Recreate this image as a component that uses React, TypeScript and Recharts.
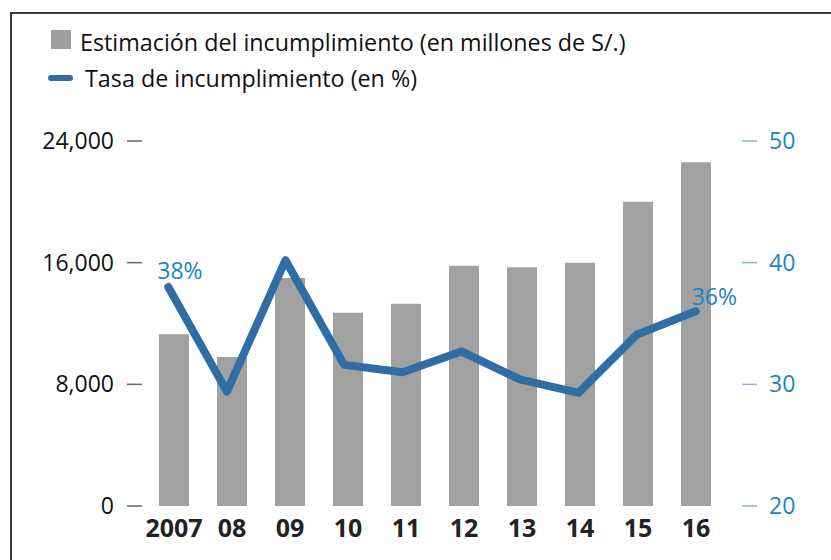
import React from 'react';
import { ComposedChart, Bar, Line, XAxis, YAxis, Legend, LabelList } from 'recharts';

const FONT = '"Open Sans", "Noto Sans", sans-serif';

const years = ['2007', '08', '09', '10', '11', '12', '13', '14', '15', '16'];
const amounts = [11300, 9800, 15000, 12700, 13300, 15800, 15700, 16000, 20000, 22600];
const rates = [38, 29.4, 40.2, 31.6, 31.0, 32.7, 30.4, 29.3, 34.1, 36];
const rateLabels = ['38%', '', '', '', '', '', '', '', '', '36%'];
const leftTicks = [0, 8000, 16000, 24000];
const rightTicks = [20, 30, 40, 50];
const legendLabels = [
  'Estimación del incumplimiento (en millones de S/.)',
  'Tasa de incumplimiento (en %)',
];

const data = years.map((year, i) => ({
  year,
  amount: amounts[i],
  rate: rates[i],
  label: rateLabels[i],
}));

const BAR_COLOR = '#a1a19f';
const LINE_COLOR = '#2f6ea5';
const BLUE_TEXT = '#1b84c6';

const fmt = (v: number) => v.toLocaleString('en-US');

const renderLegend = () => (
  <div style={{ position: 'relative', width: 831, height: 100, fontFamily: FONT, fontSize: 23.3, color: '#111' }}>
    <div style={{ position: 'absolute', left: 51, top: 30, width: 20, height: 19, background: '#9e9e9c' }} />
    <div style={{ position: 'absolute', left: 80, top: 26, lineHeight: '32px', whiteSpace: 'nowrap' }}>{legendLabels[0]}</div>
    <div style={{ position: 'absolute', left: 48, top: 75, width: 25, height: 6, borderRadius: 3, background: LINE_COLOR }} />
    <div style={{ position: 'absolute', left: 85, top: 62, lineHeight: '32px', whiteSpace: 'nowrap' }}>{legendLabels[1]}</div>
  </div>
);

const renderRateLabel = (props: any) => {
  const { x, y, value, index } = props;
  if (!value) return null;
  const dx = index === 0 ? -11 : -4;
  const dy = index === 0 ? -8 : -6;
  return (
    <text x={x + dx} y={y + dy} fill={BLUE_TEXT} fontSize={23} fontFamily={FONT} textAnchor="start">
      {value}
    </text>
  );
};

export default function App() {
  return (
    <div style={{ position: 'relative', width: 831, height: 560, background: '#fff', overflow: 'hidden' }}>
      <style>{'body{margin:0;}'}</style>
      <div
        style={{
          position: 'absolute',
          left: 10,
          top: 12,
          width: 900,
          height: 700,
          borderLeft: '2px solid #3a3a3a',
          borderTop: '2px solid #3a3a3a',
          boxSizing: 'border-box',
        }}
      />
      <div style={{ position: 'absolute', left: 0, top: 0 }}>
        <ComposedChart width={831} height={560} data={data} margin={{ top: 141, right: 0, bottom: 0, left: 0 }}>
          <XAxis
            xAxisId="bar"
            dataKey="year"
            height={54}
            padding={{ left: 3, right: 17 }}
            axisLine={false}
            tickLine={false}
            tickSize={0}
            tickMargin={13}
            interval={0}
            tick={{ fontSize: 25, fontWeight: 700, fill: '#222', fontFamily: FONT }}
          />
          <XAxis xAxisId="line" dataKey="year" hide padding={{ left: -3, right: 17 }} />
          <YAxis
            yAxisId="left"
            width={142}
            domain={[0, 24000]}
            ticks={leftTicks}
            tickFormatter={fmt}
            axisLine={false}
            tickSize={15}
            tickMargin={13}
            tickLine={{ stroke: '#666', strokeWidth: 1.5 }}
            tick={{ fontSize: 23, fill: '#111', fontFamily: FONT }}
            interval={0}
          />
          <YAxis
            yAxisId="right"
            orientation="right"
            width={89}
            domain={[20, 50]}
            ticks={rightTicks}
            axisLine={false}
            tickSize={15}
            tickMargin={12}
            tickLine={{ stroke: '#8fb6d2', strokeWidth: 1.5 }}
            tick={{ fontSize: 23, fill: BLUE_TEXT, fontFamily: FONT }}
            interval={0}
          />
          <Legend
            layout="horizontal"
            verticalAlign="middle"
            align="center"
            content={renderLegend}
            wrapperStyle={{ top: 0, left: 0, width: 831, height: 100 }}
          />
          <Bar
            xAxisId="bar"
            yAxisId="left"
            dataKey="amount"
            fill={BAR_COLOR}
            barSize={30}
            isAnimationActive={false}
          />
          <Line
            xAxisId="line"
            yAxisId="right"
            dataKey="rate"
            stroke={LINE_COLOR}
            strokeWidth={8}
            strokeLinecap="round"
            strokeLinejoin="round"
            dot={false}
            activeDot={false}
            isAnimationActive={false}
          >
            <LabelList dataKey="label" content={renderRateLabel} />
          </Line>
        </ComposedChart>
      </div>
    </div>
  );
}
